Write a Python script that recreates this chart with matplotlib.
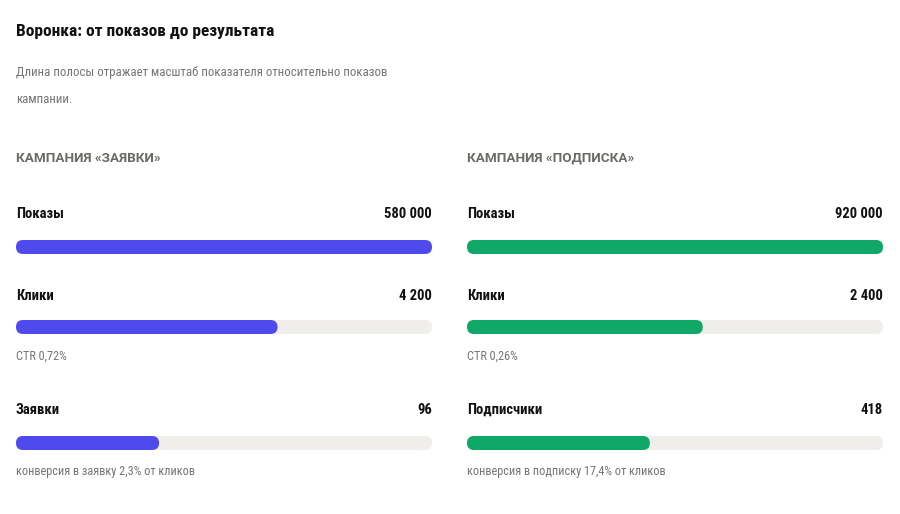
import matplotlib
matplotlib.use("Agg")
import matplotlib.pyplot as plt
from matplotlib.patches import FancyBboxPatch
from matplotlib.transforms import IdentityTransform

plt.rcParams['font.family'] = ['Roboto Condensed', 'DejaVu Sans']

title = "Воронка: от показов до результата"
subtitle = "Длина полосы отражает масштаб показателя относительно показов\nкампании."

campaigns = ["КАМПАНИЯ «ЗАЯВКИ»", "КАМПАНИЯ «ПОДПИСКА»"]
stages_a = ["Показы", "Клики", "Заявки"]
stages_b = ["Показы", "Клики", "Подписчики"]
values_a = [580000, 4200, 96]
values_b = [920000, 2400, 418]
value_labels_a = ["580 000", "4 200", "96"]
value_labels_b = ["920 000", "2 400", "418"]
notes_a = [None, "CTR 0,72%", "конверсия в заявку 2,3% от кликов"]
notes_b = [None, "CTR 0,26%", "конверсия в подписку 17,4% от кликов"]
colors = ["#4F4AEE", "#10A866"]
track = "#F0EEEA"

W, H = 900, 514
fig = plt.figure(figsize=(W / 100, H / 100), dpi=100)
fig.patch.set_facecolor("white")


def fx(x):
    return x / W


def fy(y):
    return 1 - y / H


fig.text(fx(16), fy(31), title, fontsize=12.5, fontweight="bold", color="#111111", va="center")
fig.text(fx(16), fy(86), subtitle, fontsize=9.3, color="#757575", va="center", linespacing=2.45)

label_y = [214, 296, 410]
bar_y = [247, 327, 443]
note_y = [None, 356, 472]
bar_h = 14

panels = [
    (16, 432, campaigns[0], stages_a, values_a, value_labels_a, notes_a, colors[0]),
    (467, 883, campaigns[1], stages_b, values_b, value_labels_b, notes_b, colors[1]),
]


def pill(ax, v0, v1, color):
    # rounded bar between two data values, placed in pixels via the axes' log scale
    (xa, yc), (xb, _) = ax.transData.transform([(v0, 0), (v1, 0)])
    p = FancyBboxPatch((xa, yc - bar_h / 2), xb - xa, bar_h,
                       boxstyle=f"round,pad=0,rounding_size={bar_h / 2}",
                       transform=IdentityTransform(), facecolor=color,
                       edgecolor="none", clip_on=False)
    ax.add_artist(p)


for x0, x1, head, stages, vals, vlabels, notes, col in panels:
    fig.text(fx(x0), fy(158), head, fontsize=9.7, fontweight="bold", color="#6b6b66",
             va="center", family=['Roboto', 'DejaVu Sans'])
    vmax = vals[0]
    for i in range(len(stages)):
        fig.text(fx(x0), fy(label_y[i]), stages[i], fontsize=10.5, fontweight="bold",
                 color="#111111", va="center")
        fig.text(fx(x1), fy(label_y[i]), vlabels[i], fontsize=10.5, fontweight="bold",
                 color="#111111", va="center", ha="right")
        if notes[i]:
            fig.text(fx(x0), fy(note_y[i]), notes[i], fontsize=8.8, color="#757575", va="center")
        ax = fig.add_axes([fx(x0), fy(bar_y[i] + bar_h), fx(x1 - x0), bar_h * 2 / H])
        ax.set_xscale("log")
        ax.set_xlim(1, vmax)
        ax.set_ylim(-1, 1)
        ax.axis("off")
        pill(ax, 1, vmax, track)
        pill(ax, 1, vals[i], col)

fig.savefig("out.png", dpi=100, facecolor="white")
